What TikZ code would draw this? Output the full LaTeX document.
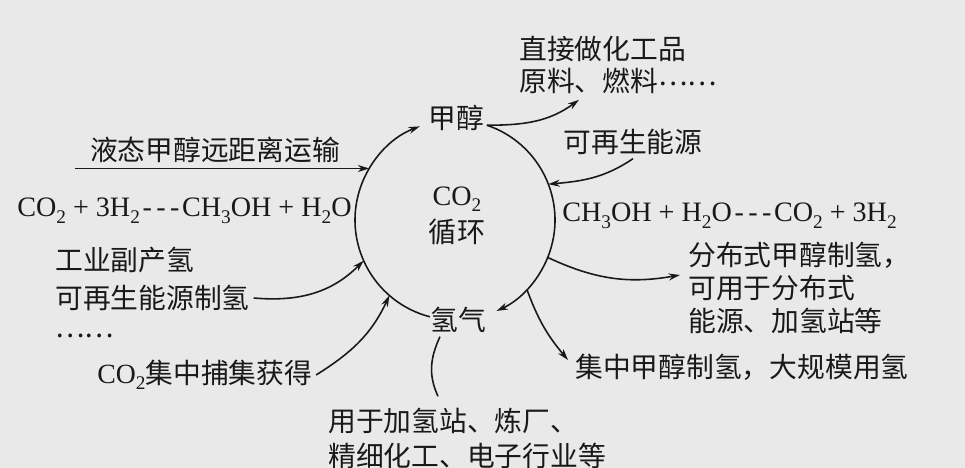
\documentclass[tikz,border=0pt]{standalone}
\usepackage{fontspec}
\setmainfont{Liberation Serif}
\newfontfamily\cjk{Noto Sans CJK SC}
\usepackage{xcolor}
\definecolor{cbg}{rgb}{0.914,0.914,0.914}
\definecolor{cink}{rgb}{0.1,0.1,0.1}
\usepackage{tikz}
\usetikzlibrary{arrows.meta, positioning}
\newcommand{\eqdash}{\kern1.5pt-\kern2.5pt-\kern2.5pt-\kern1.5pt}
\newcommand{\lowsub}[1]{\raisebox{-0.5ex}{\fontsize{11}{11}\selectfont #1}}
\newcommand{\middots}{\raisebox{0.25em}{……}}
\tikzset{
Label/.style={
	inner sep=2pt,
	text=cink,
	font=\cjk\fontsize{15.8}{18.7}\selectfont
},
MultiLabel/.style={
	Label,
	align=left
},
Formula/.style={
	inner sep=2pt,
	text=cink,
	font=\fontsize{16}{19}\selectfont
},
Edge/.style={
	draw=cink,
	line width=0.9pt,
	-{Stealth[length=6.5pt,width=4pt]}
},
PlainEdge/.style={
	draw=cink,
	line width=0.9pt
}
}

\begin{document}
\begin{tikzpicture}
	\useasboundingbox (0,0) rectangle (19.3,9.36);
	\fill[cbg] (0,0) rectangle (19.3,9.36);

	\coordinate (O) at (9.10,4.96);
	\node[Label] (jc) at (9.12,7.00) {甲醇};
	\node[Label] (qq) at (9.16,2.96) {氢气};
	\node[Formula, align=center, font=\fontsize{16}{21.5}\selectfont] (ctr) at (9.14,5.04) {CO\lowsub{2}\\{\cjk 循环}};

	\node[MultiLabel, anchor=west] (yl) at (10.31,8.06) {直接做化工品\\原料、燃料\middots};
	\node[Label] (kz) at (12.66,6.52) {可再生能源};
	\node[Formula, anchor=base west] (eqR) at (11.17,4.92) {CH\lowsub{3}OH + H\lowsub{2}O\eqdash CO\lowsub{2} + 3H\lowsub{2}};
	\node[MultiLabel, anchor=west] (fbs) at (13.69,3.60) {分布式甲醇制氢，\\可用于分布式\\能源、加氢站等};
	\node[Label, anchor=west] (jz) at (11.43,2.02) {集中甲醇制氢，大规模用氢};

	\node[Label] (ys) at (4.30,6.36) {液态甲醇远距离运输};
	\node[Formula, anchor=base east] (eqL) at (7.11,5.02) {CO\lowsub{2} + 3H\lowsub{2}\eqdash CH\lowsub{3}OH + H\lowsub{2}O};
	\node[Label, anchor=west] (kzq) at (1.03,3.40) {可再生能源制氢};
	\node[Label, above=0.76cm of kzq.west, anchor=west] (gy) {工业副产氢};
	\node[Label, below=0.76cm of kzq.west, anchor=west] (dots) {……};
	\node[Label, anchor=west] (co2) at (1.87,1.86) {{\rmfamily CO\lowsub{2}}集中捕集获得};
	\node[MultiLabel, anchor=west] (yy) at (6.49,0.59) {用于加氢站、炼厂、\\[1.2pt]精细化工、电子行业等};

	\foreach \a/\n in {149/ys, 110.6/jl, 71.4/jr, 21/kz, -22/fb, -44/jz, -65.5/qr, 255.5/ql, 204/kq, 229/co}
		\path (O) ++(\a:2) coordinate (c\n);

	\draw[Edge] (cql) arc[start angle=255.5, end angle=110.6, radius=2cm];
	\draw[Edge] (cjr) arc[start angle=71.4, end angle=-65.5, radius=2cm];

	\coordinate (ys0) at ([xshift=-0.23cm]ys.west);
	\draw[Edge] (ys0 |- cys) -- (cys);
	\draw[Edge] (cjr) to[out=0, in=216] ([xshift=1.27cm, yshift=-1pt]yl.south west);
	\draw[Edge] (kz.south) to[out=214, in=5] (ckz);
	\draw[Edge] (cfb) to[out=-25, in=190] ([xshift=-0.09cm, yshift=0.26cm]fbs.west);
	\draw[Edge] (cjz) to[out=-70, in=130] ([xshift=-0.07cm, yshift=0.14cm]jz.west);
	\draw[Edge] (kzq.east) to[out=-5, in=225] (ckq);
	\draw[Edge] (co2.east) to[out=32, in=245] (cco);
	\draw[PlainEdge] ([xshift=-0.36cm]qq.south) to[out=-115, in=115] ([xshift=2.27cm, yshift=0.16cm]yy.north west);
\end{tikzpicture}
\end{document}
